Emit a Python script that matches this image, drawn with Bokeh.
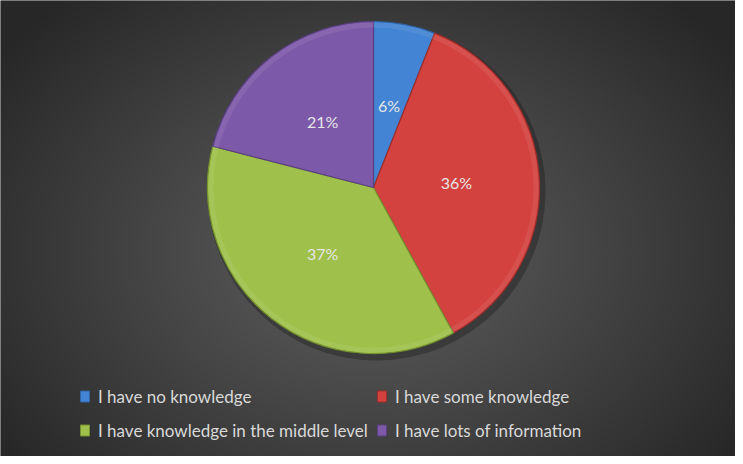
import numpy as np
from bokeh.plotting import figure
from bokeh.models import Range1d, ColumnDataSource
from bokeh.core.properties import value
from bokeh.embed import file_html
from bokeh.resources import INLINE

# ---- data ----
categories = ["I have no knowledge", "I have some knowledge",
              "I have knowledge in the middle level", "I have lots of information"]
values = [6, 36, 37, 21]
pct_labels = ["6%", "36%", "37%", "21%"]
colors = ["#4384d4", "#d3423f", "#9fc04a", "#7d5aa9"]
edge_colors = ["#2f62a3", "#9c2d2b", "#74902f", "#5a3f80"]

W, H = 735, 456
p = figure(width=W, height=H, output_backend="svg", toolbar_location=None,
           x_range=Range1d(0, W), y_range=Range1d(0, H), min_border=0)
p.axis.visible = False
p.grid.visible = False
p.outline_line_color = None
p.background_fill_color = "#3a3a3a"
p.border_fill_color = "#3a3a3a"

# radial gradient background
yy, xx = np.mgrid[0:H, 0:W]
cxg, cyg = W * 0.5, H * 0.45
d = np.sqrt(((xx - cxg) / (W * 0.62)) ** 2 + ((yy - cyg) / (H * 0.75)) ** 2)
d = np.clip(d, 0, 1) ** 1.1
c0, c1 = 0x5e, 0x27
g = (c0 + (c1 - c0) * d).astype(np.uint32)
img = (255 << 24) | (g << 16) | (g << 8) | g
p.image_rgba(image=[img.view(np.uint32)], x=0, y=0, dw=W, dh=H)

# pie
cx, cy, R = 373, 269, 166
fr = np.array(values, dtype=float) / sum(values)
ends = np.cumsum(fr)
starts = ends - fr
start_ang = np.pi / 2 - starts * 2 * np.pi
end_ang = np.pi / 2 - ends * 2 * np.pi
mid = (starts + ends) / 2 * 2 * np.pi

src = ColumnDataSource(dict(start=start_ang, end=end_ang, color=colors, edge=edge_colors,
                            lx=cx + 0.5 * R * np.sin(mid), ly=cy + 0.5 * R * np.cos(mid),
                            label=pct_labels))

# shadow
p.circle(x=[cx + 3], y=[cy - 4], radius=R + 3, radius_units="screen",
         fill_color="black", fill_alpha=0.25, line_color=None)
p.wedge(x=cx, y=cy, radius=R, radius_units="screen", start_angle="start", end_angle="end",
        direction="clock", fill_color="color", line_color="edge", line_width=1.2, source=src)
# bevel highlight near rim
p.annular_wedge(x=cx, y=cy, inner_radius=R - 6, outer_radius=R - 1,
                inner_radius_units="screen", outer_radius_units="screen",
                start_angle="start", end_angle="end", direction="clock",
                fill_color="white", fill_alpha=0.08, line_color=None, source=src)
p.text(x="lx", y="ly", text="label", source=src, text_font=value("Lato"),
       text_font_size="16px", text_color="#e6e6e6", text_align="center",
       text_baseline="middle")

# legend (manual, 2x2 grid)
mx = [84.5, 381.5, 84.5, 381.5]
my = [60, 60, 26, 26]
lsrc = ColumnDataSource(dict(mx=mx, my=my, tx=[m + 13 for m in mx], label=categories,
                             color=colors, edge=edge_colors))
p.rect(x="mx", y="my", width=9, height=11, width_units="screen", height_units="screen",
       fill_color="color", line_color="edge", line_width=1, source=lsrc)
p.text(x="tx", y="my", text="label", source=lsrc, text_font=value("Lato"),
       text_font_size="17px", text_color="#d9d9d9", text_align="left",
       text_baseline="middle")

open("out.html", "w").write(file_html(p, INLINE))
